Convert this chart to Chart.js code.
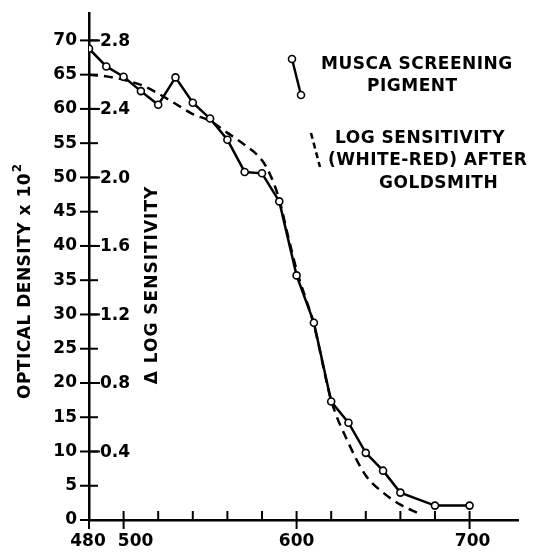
<!DOCTYPE html>
<html>
<head>
<meta charset="utf-8">
<script src="https://cdn.jsdelivr.net/npm/chart.js@4"></script>
<style>
  html, body { margin: 0; padding: 0; background: #fff; }
  #wrap { width: 540px; height: 552px; }
</style>
</head>
<body>
<div id="wrap"><canvas id="chart"></canvas></div>
<script>
// wavelength (nm) and optical density x 10^2 of the screening pigment
const wavelengths = [480, 490, 500, 510, 520, 530, 540, 550, 560, 570, 580, 590, 600, 610, 620, 630, 640, 650, 660, 680, 700];
const pigmentOD = [68.8, 66.2, 64.7, 62.6, 60.6, 64.6, 60.9, 58.6, 55.5, 50.8, 50.6, 46.5, 35.7, 28.8, 17.3, 14.2, 9.8, 7.2, 4.0, 2.1, 2.1];

// log sensitivity (white - red), after Goldsmith
const sensWavelengths = [480, 490, 500, 510, 520, 530, 540, 550, 560, 570, 580, 585, 590, 595, 600, 610, 620, 630, 640, 650, 660, 670];
const logSensitivity = [2.60, 2.59, 2.57, 2.54, 2.49, 2.43, 2.37, 2.33, 2.26, 2.19, 2.10, 2.01, 1.87, 1.66, 1.46, 1.14, 0.70, 0.45, 0.26, 0.16, 0.09, 0.04];

const xTicks = [480, 500, 520, 540, 560, 580, 600, 620, 640, 660, 680, 700];
const xLabels = [480, 500, 600, 700];
const odTicks = [0, 5, 10, 15, 20, 25, 30, 35, 40, 45, 50, 55, 60, 65, 70];
const logTicks = [0.4, 0.8, 1.2, 1.6, 2.0, 2.4, 2.8];

const FONT = 'DejaVu Sans';
const TEXT = 'bold 17px ' + FONT;
const OD_MAX = 74;
// hand lettering in the original sits slightly off some ticks
const xLabelShift = { 480: -1, 500: 12, 600: 0, 700: 3 };

const decorations = {
  id: 'decorations',
  afterDraw(chart) {
    const ctx = chart.ctx;
    const x = chart.scales.x;
    const y = chart.scales.y;
    const y2 = chart.scales.y2;
    const axisX = x.getPixelForValue(480);
    const axisY = y.getPixelForValue(0);
    ctx.save();
    ctx.strokeStyle = '#000';
    ctx.fillStyle = '#000';
    ctx.lineWidth = 2;

    // y ticks cross the axis
    odTicks.forEach(v => {
      const py = y.getPixelForValue(v);
      ctx.beginPath();
      ctx.moveTo(axisX - 9, py);
      ctx.lineTo(axisX + 9, py);
      ctx.stroke();
    });

    // log sensitivity labels on the right of the axis
    ctx.font = TEXT;
    ctx.textAlign = 'left';
    ctx.textBaseline = 'middle';
    logTicks.forEach(v => {
      const py = y2.getPixelForValue(v);
      ctx.beginPath();
      ctx.moveTo(axisX, py);
      ctx.lineTo(axisX + 11, py);
      ctx.stroke();
      ctx.fillText(v.toFixed(1), axisX + 11, py + 1);
    });

    // x ticks and labels
    ctx.textAlign = 'center';
    xTicks.forEach(v => {
      const px = x.getPixelForValue(v);
      const labelled = xLabels.includes(v);
      ctx.beginPath();
      ctx.moveTo(px, axisY - 9);
      ctx.lineTo(px, axisY + (labelled ? 9 : 0));
      ctx.stroke();
      if (labelled) ctx.fillText(String(v), px + xLabelShift[v], axisY + 22);
    });

    // axis titles
    ctx.save();
    ctx.translate(25, 280);
    ctx.rotate(-Math.PI / 2);
    ctx.font = TEXT;
    ctx.letterSpacing = '0.5px';
    const main = 'OPTICAL DENSITY x 10';
    const w = ctx.measureText(main).width;
    ctx.fillText(main, -6, 1);
    ctx.font = 'bold 12px ' + FONT;
    ctx.fillText('2', -6 + w / 2 + 5, -7);
    ctx.restore();

    ctx.save();
    ctx.translate(152, 285);
    ctx.rotate(-Math.PI / 2);
    ctx.font = TEXT;
    ctx.letterSpacing = '1px';
    ctx.fillText('\u0394 LOG SENSITIVITY', 0, 1);
    ctx.restore();

    // legend
    ctx.lineWidth = 2.5;
    ctx.beginPath();
    ctx.moveTo(292, 59);
    ctx.lineTo(301, 95);
    ctx.stroke();
    [[292, 59], [301, 95]].forEach(([cx, cy]) => {
      ctx.beginPath();
      ctx.arc(cx, cy, 3.5, 0, Math.PI * 2);
      ctx.fillStyle = '#fff';
      ctx.fill();
      ctx.lineWidth = 1.6;
      ctx.stroke();
    });
    ctx.lineWidth = 2.5;
    ctx.setLineDash([6, 4]);
    ctx.beginPath();
    ctx.moveTo(311, 133);
    ctx.lineTo(320, 167);
    ctx.stroke();
    ctx.setLineDash([]);

    ctx.fillStyle = '#000';
    ctx.font = TEXT;
    ctx.letterSpacing = '0.5px';
    ctx.textAlign = 'left';
    ctx.textBaseline = 'middle';
    ctx.fillText('MUSCA SCREENING', 321, 65);
    ctx.fillText('PIGMENT', 367, 87);
    ctx.fillText('LOG SENSITIVITY', 335, 139);
    ctx.fillText('(WHITE-RED) AFTER', 328, 161);
    ctx.fillText('GOLDSMITH', 379, 184);
    ctx.restore();
  }
};

new Chart(document.getElementById('chart'), {
  type: 'line',
  data: {
    datasets: [
      {
        label: 'Musca screening pigment',
        data: wavelengths.map((w, i) => ({ x: w, y: pigmentOD[i] })),
        yAxisID: 'y',
        borderColor: '#000',
        borderWidth: 2.5,
        pointRadius: 3.5,
        pointBorderWidth: 1.6,
        pointBackgroundColor: '#fff',
        pointBorderColor: '#000',
        tension: 0,
        order: 1
      },
      {
        label: 'Log sensitivity (white-red) after Goldsmith',
        data: sensWavelengths.map((w, i) => ({ x: w, y: logSensitivity[i] })),
        yAxisID: 'y2',
        borderColor: '#000',
        borderWidth: 2.5,
        borderDash: [9, 6],
        pointRadius: 0,
        cubicInterpolationMode: 'monotone',
        order: 2
      }
    ]
  },
  options: {
    responsive: true,
    maintainAspectRatio: false,
    animation: false,
    layout: { padding: { top: 13, right: 22, left: 0, bottom: 0 } },
    plugins: {
      legend: { display: false },
      tooltip: { enabled: false }
    },
    scales: {
      x: {
        type: 'linear',
        min: 480,
        max: 728,
        afterFit: s => { s.height = 32; s.paddingLeft = 0; s.paddingRight = 0; },
        grid: { display: false, drawTicks: false },
        border: { display: true, color: '#000', width: 2.5 },
        ticks: { display: false }
      },
      y: {
        min: 0,
        max: OD_MAX,
        afterFit: s => { s.width = 89; s.paddingTop = 0; s.paddingBottom = 0; },
        afterBuildTicks: s => { s.ticks = odTicks.map(v => ({ value: v })); },
        grid: { display: false, drawTicks: false },
        border: { display: true, color: '#000', width: 2.5 },
        ticks: {
          color: '#000',
          padding: 12,
          autoSkip: false,
          font: { family: FONT, size: 17, weight: 'bold' }
        }
      },
      y2: {
        display: false,
        min: 0,
        max: OD_MAX / 25
      }
    }
  },
  plugins: [decorations]
});
</script>
</body>
</html>
